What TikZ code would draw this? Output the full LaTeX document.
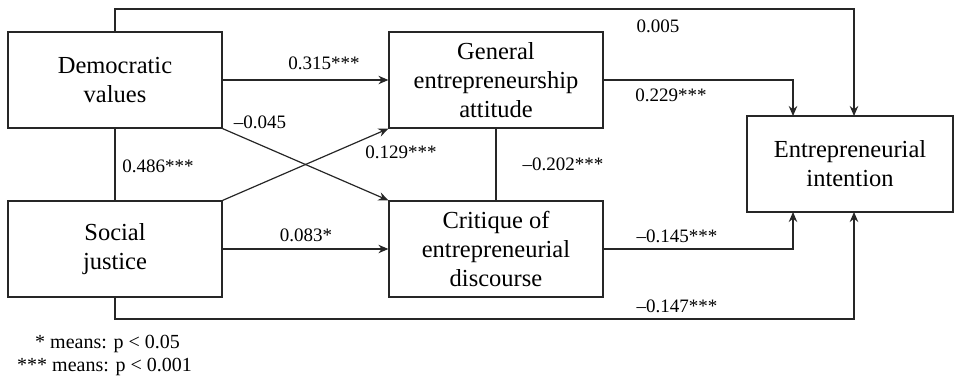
\documentclass[tikz,border=0pt]{standalone}
\usepackage{fontspec}
\setmainfont{Liberation Serif}
\usetikzlibrary{arrows.meta}
\begin{document}
\begin{tikzpicture}[x=1pt,y=-1pt,
  box/.style={draw=black!85,line width=1.2pt,minimum width=214pt,minimum height=96pt,align=center,inner sep=0pt,font=\fontsize{24.5}{29}\selectfont},
  lab/.style={inner sep=0pt,font=\fontsize{19}{22}\selectfont},
  conn/.style={draw=black!85,line width=1.2pt},
  arr/.style={conn,-{Stealth[length=10pt,width=8.5pt]}}]
\useasboundingbox (0,0) rectangle (954,383);
\node[box] (dv) at (115,80) {Democratic\\values};
\node[box] (ga) at (496,80) {General\\entrepreneurship\\attitude};
\node[box] (sj) at (115,249) {Social\\justice};
\node[box] (cd) at (496,249) {Critique of\\entrepreneurial\\discourse};
\node[box,minimum width=206pt] (ei) at (850,164) {Entrepreneurial\\intention};
\coordinate (ta) at (793,116);
\coordinate (tb) at (854,116);
\coordinate (ba) at (793,212);
\coordinate (bb) at (854,212);
% paths
\draw[arr] (dv.north) -- (115,9) -- (854,9) -- (tb);
\draw[arr] (ga.east) -- (793,80) -- (ta);
\draw[arr] (cd.east) -- (793,249) -- (ba);
\draw[arr] (sj.south) -- (115,319) -- (854,319) -- (bb);
\draw[conn] (dv.south) -- (sj.north);
\draw[conn] (ga.south) -- (cd.north);
\draw[arr] (dv.east) -- (ga.west);
\draw[arr] (sj.east) -- (cd.west);
\draw[arr] (dv.south east) -- (cd.north west);
\draw[arr] (sj.north east) -- (ga.south west);
% labels
\node[lab] (l1) at (324,63) {0.315***};
\node[lab] (l2) at (260,122) {–0.045};
\node[lab] (l3) at (158,166) {0.486***};
\node[lab] (l4) at (401,152) {0.129***};
\node[lab] (l5) at (563,164) {–0.202***};
\node[lab] (l6) at (658,26) {0.005};
\node[lab] (l7) at (671,95) {0.229***};
\node[lab] (l8) at (306,235) {0.083*};
\node[lab] (l9) at (677,236) {–0.145***};
\node[lab] (l10) at (677,306) {–0.147***};
\node[lab,anchor=west,font=\fontsize{20}{22}\selectfont] (n1) at (35,344) {* means: p < 0.05};
\node[lab,anchor=west,font=\fontsize{20}{22}\selectfont] (n2) at (17,367) {*** means: p < 0.001};
\end{tikzpicture}
\end{document}
